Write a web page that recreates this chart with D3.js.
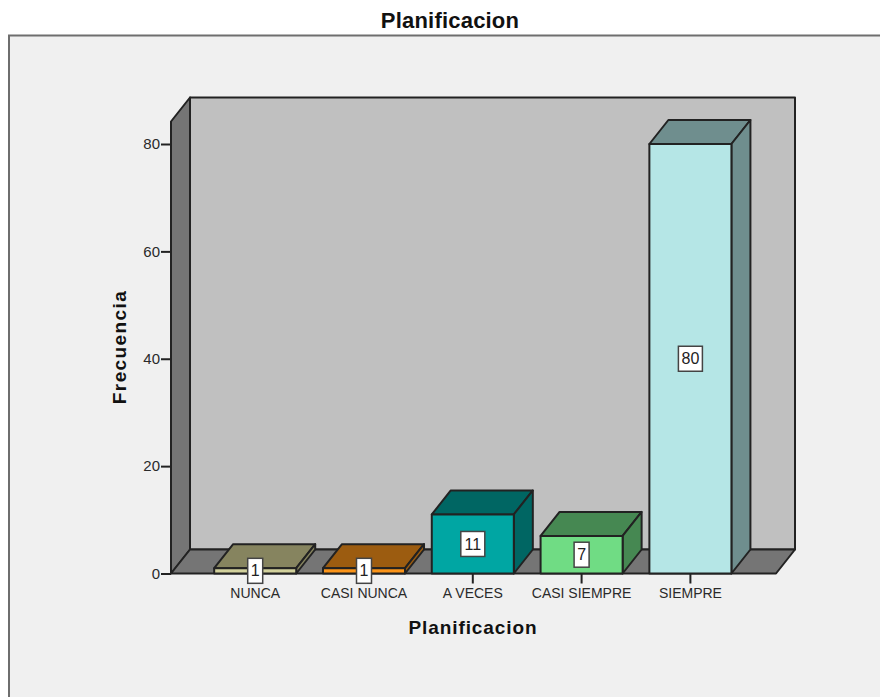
<!DOCTYPE html>
<html>
<head>
<meta charset="utf-8">
<script src="https://cdn.jsdelivr.net/npm/d3@7"></script>
<style>
  html, body { margin: 0; padding: 0; background: #fff; }
  svg { display: block; }
  text { font-family: "Liberation Sans", Arial, sans-serif; fill: #222; }
</style>
</head>
<body>
<svg id="chart" width="880" height="697"></svg>
<script>
const categories = ["NUNCA", "CASI NUNCA", "A VECES", "CASI SIEMPRE", "SIEMPRE"];
const values = [1, 1, 11, 7, 80];
const frontColors = ["#d2d19c", "#fb9419", "#00a6a3", "#70dc84", "#b5e6e6"];
const shadeColors = ["#86845f", "#9c5c10", "#006663", "#468852", "#6f8e8e"];
const yTicks = [0, 20, 40, 60, 80];

const svg = d3.select("#chart");
const depth = { x: 19, y: -24 };
const plot = { left: 171, right: 776, bottom: 573.5, top: 121.5 };
const ink = "#222";

const x = d3.scaleBand()
  .domain(categories)
  .range([200.8, 744.8])
  .paddingInner(0.246)
  .paddingOuter(0.123);
const y = d3.scaleLinear().domain([0, 80]).range([plot.bottom, 144]);

const poly = pts => pts.map(p => p.join(",")).join(" ");

// Panel behind the chart
svg.append("rect")
  .attr("x", 9).attr("y", 35.5).attr("width", 900).attr("height", 700)
  .attr("fill", "#f0f0f0").attr("stroke", "#6e6e6e").attr("stroke-width", 2);

// 3D box: back wall, side wall, floor
const walls = svg.append("g")
  .attr("stroke", ink).attr("stroke-width", 2).attr("stroke-linejoin", "round");
walls.append("polygon").attr("fill", "#c0c0c0").attr("points", poly([
  [plot.left + depth.x, plot.bottom + depth.y], [plot.right + depth.x, plot.bottom + depth.y],
  [plot.right + depth.x, plot.top + depth.y], [plot.left + depth.x, plot.top + depth.y]
]));
walls.append("polygon").attr("fill", "#757575").attr("points", poly([
  [plot.left, plot.bottom], [plot.left + depth.x, plot.bottom + depth.y],
  [plot.left + depth.x, plot.top + depth.y], [plot.left, plot.top]
]));
walls.append("polygon").attr("fill", "#757575").attr("points", poly([
  [plot.left, plot.bottom], [plot.left + depth.x, plot.bottom + depth.y],
  [plot.right + depth.x, plot.bottom + depth.y], [plot.right, plot.bottom]
]));

// Bars, each a front, top and side face
const bars = svg.append("g").selectAll("g")
  .data(categories.map((c, i) => ({ c, v: values[i], front: frontColors[i], shade: shadeColors[i] })))
  .join("g")
  .attr("stroke", ink).attr("stroke-width", 2).attr("stroke-linejoin", "round");

bars.append("polygon").attr("fill", d => d.shade).attr("points", d => {
  const l = x(d.c), r = l + x.bandwidth(), t = y(d.v);
  return poly([[l, t], [l + depth.x, t + depth.y], [r + depth.x, t + depth.y], [r, t]]);
});
bars.append("polygon").attr("fill", d => d.shade).attr("points", d => {
  const r = x(d.c) + x.bandwidth(), t = y(d.v), b = y(0);
  return poly([[r, t], [r + depth.x, t + depth.y], [r + depth.x, b + depth.y], [r, b]]);
});
bars.append("rect")
  .attr("x", d => x(d.c)).attr("y", d => y(d.v))
  .attr("width", x.bandwidth()).attr("height", d => y(0) - y(d.v))
  .attr("fill", d => d.front);

// Axes
const xAxis = svg.append("g")
  .attr("transform", `translate(0,${plot.bottom})`)
  .call(d3.axisBottom(x).tickSize(10).tickPadding(5));
xAxis.select(".domain").remove();
xAxis.selectAll("line").attr("stroke", ink).attr("stroke-width", 2);
xAxis.selectAll("text").attr("font-size", 14).style("fill", "#2a2a2a");

const yAxis = svg.append("g")
  .attr("transform", `translate(${plot.left},0)`)
  .call(d3.axisLeft(y).tickValues(yTicks).tickSize(10).tickPadding(1));
yAxis.select(".domain").remove();
yAxis.selectAll("line").attr("stroke", ink).attr("stroke-width", 2);
yAxis.selectAll("text").attr("font-size", 15).style("fill", "#2a2a2a");

// Value labels at the middle of each bar
const labels = svg.append("g").selectAll("g")
  .data(categories.map((c, i) => ({ c, v: values[i] })))
  .join("g")
  .attr("transform", d => `translate(${x(d.c) + x.bandwidth() / 2},${y(d.v / 2)})`);
labels.append("rect")
  .attr("x", d => String(d.v).length > 1 ? -12 : -7.5)
  .attr("y", -12.5)
  .attr("width", d => String(d.v).length > 1 ? 24 : 15)
  .attr("height", 25)
  .attr("fill", "#fff").attr("stroke", "#444").attr("stroke-width", 1.5);
labels.append("text")
  .attr("text-anchor", "middle").attr("dy", "0.35em")
  .attr("font-size", 16)
  .text(d => d.v);

// Titles
svg.append("text")
  .attr("x", 450).attr("y", 28).attr("text-anchor", "middle")
  .attr("font-size", 22).attr("letter-spacing", 0.2).attr("font-weight", "bold").style("fill", "#111")
  .text("Planificacion");
svg.append("text")
  .attr("x", 473).attr("y", 634).attr("text-anchor", "middle")
  .attr("font-size", 19).attr("letter-spacing", 0.9).attr("font-weight", "bold").style("fill", "#111")
  .text("Planificacion");
svg.append("text")
  .attr("transform", "translate(125.5,347) rotate(-90)").attr("text-anchor", "middle")
  .attr("font-size", 19).attr("letter-spacing", 1.4).attr("font-weight", "bold").style("fill", "#111")
  .text("Frecuencia");
</script>
</body>
</html>
